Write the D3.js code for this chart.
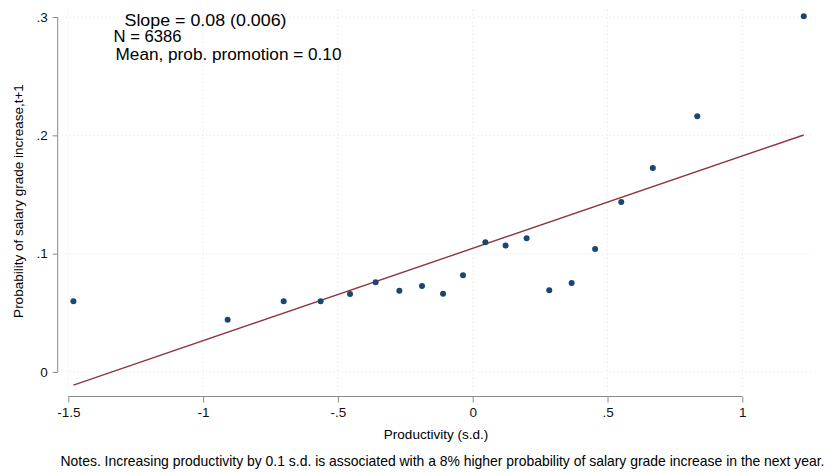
<!DOCTYPE html>
<html>
<head>
<meta charset="utf-8">
<script src="https://cdn.jsdelivr.net/npm/d3@7"></script>
<style>
  html, body { margin: 0; padding: 0; background: #fff; }
  svg { display: block; font-family: "Liberation Sans", Arial, Helvetica, sans-serif; }
</style>
</head>
<body>
<svg id="chart" width="826" height="473"></svg>
<script>
// Binned productivity (s.d.) and probability of a salary grade increase in t+1
const binX = [-1.481, -0.909, -0.701, -0.564, -0.455, -0.360, -0.272, -0.188, -0.110, -0.036,
              0.047, 0.122, 0.200, 0.284, 0.367, 0.454, 0.551, 0.668, 0.833, 1.228];
const binY = [0.0598, 0.0442, 0.0598, 0.0598, 0.0659, 0.0758, 0.0687, 0.0727, 0.0662, 0.0817,
              0.1096, 0.1068, 0.1130, 0.0691, 0.0752, 0.1040, 0.1437, 0.1724, 0.2161, 0.3007];

// Fitted line
const fitSlope = 0.078;
const fitIntercept = 0.1045;

const xTicks = [-1.5, -1, -0.5, 0, 0.5, 1];
const xTickLabels = ["-1.5", "-1", "-.5", "0", ".5", "1"];
const yTicks = [0, 0.1, 0.2, 0.3];
const yTickLabels = ["0", ".1", ".2", ".3"];

const statLines = ["Slope = 0.08 (0.006)", "N = 6386", "Mean, prob. promotion = 0.10"];
const xTitle = "Productivity (s.d.)";
const yTitle = "Probability of salary grade increase,t+1";
const note = "Notes. Increasing productivity by 0.1 s.d. is associated with a 8% higher probability of salary grade increase in the next year.";

const svg = d3.select("#chart");

const x = d3.scaleLinear().domain([-1.5, 1]).range([68.3, 742.3]);
const y = d3.scaleLinear().domain([0, 0.3]).range([372, 17]);

const axisColor = "#8a8a8a";
const gridColor = "#e4e4e4";

// Dotted grid
const grid = svg.append("g");
grid.selectAll("line.gy").data(yTicks).join("line")
  .attr("x1", 62).attr("x2", 812)
  .attr("y1", d => y(d)).attr("y2", d => y(d))
  .attr("stroke", gridColor).attr("stroke-width", 1).attr("stroke-dasharray", "1,3");
grid.selectAll("line.gx").data(xTicks).join("line")
  .attr("y1", 10).attr("y2", 392)
  .attr("x1", d => x(d)).attr("x2", d => x(d))
  .attr("stroke", gridColor).attr("stroke-width", 1).attr("stroke-dasharray", "1,3");

// Y axis
const yAxis = svg.append("g").attr("transform", "translate(57.7,0)")
  .call(d3.axisLeft(y).tickValues(yTicks).tickFormat((d, i) => yTickLabels[i]).tickSize(5).tickPadding(5));
yAxis.select(".domain").attr("stroke", axisColor).attr("d", `M0,${y(0)}V${y(0.3)}`);
yAxis.selectAll(".tick line").attr("stroke", axisColor);
yAxis.selectAll(".tick text").attr("font-size", 13.5).attr("fill", "#111")
  .attr("font-family", "Liberation Sans, Arial, sans-serif");

// X axis
const xAxis = svg.append("g").attr("transform", "translate(0,396.5)")
  .call(d3.axisBottom(x).tickValues(xTicks).tickFormat((d, i) => xTickLabels[i]).tickSize(6).tickPadding(5));
xAxis.select(".domain").attr("stroke", axisColor).attr("d", `M${x(-1.5)},0H${x(1)}`);
xAxis.selectAll(".tick line").attr("stroke", axisColor);
xAxis.selectAll(".tick text").attr("font-size", 13.5).attr("fill", "#111")
  .attr("font-family", "Liberation Sans, Arial, sans-serif");

// Fitted line across the range of the bins
const xMin = d3.min(binX), xMax = d3.max(binX);
svg.append("line")
  .attr("x1", x(xMin)).attr("y1", y(fitIntercept + fitSlope * xMin))
  .attr("x2", x(xMax)).attr("y2", y(fitIntercept + fitSlope * xMax))
  .attr("stroke", "#90353b").attr("stroke-width", 1.4);

// Binned points
svg.append("g").selectAll("circle").data(binX.map((v, i) => [v, binY[i]])).join("circle")
  .attr("cx", d => x(d[0])).attr("cy", d => y(d[1])).attr("r", 3)
  .attr("fill", "#1a476f");

// Statistics text (stacked block, widths fixed per line)
const statPos = [[124.5, 26], [113.5, 42], [115.5, 59.5]];
const statWidth = [162, 68, 226];
svg.append("g").selectAll("text").data(statLines).join("text")
  .attr("x", (d, i) => statPos[i][0]).attr("y", (d, i) => statPos[i][1])
  .attr("font-size", 15.8).attr("fill", "#000")
  .attr("textLength", (d, i) => statWidth[i]).attr("lengthAdjust", "spacingAndGlyphs")
  .text(d => d);

// Axis titles
svg.append("text").attr("x", 436).attr("y", 439).attr("text-anchor", "middle")
  .attr("font-size", 13.5).attr("fill", "#000").text(xTitle);
svg.append("text").attr("transform", "translate(23,201) rotate(-90)").attr("text-anchor", "middle")
  .attr("font-size", 13.5).attr("fill", "#000").text(yTitle);

// Note
svg.append("text").attr("x", 60.5).attr("y", 466).attr("font-size", 13.9).attr("fill", "#000")
  .attr("textLength", 764).attr("lengthAdjust", "spacingAndGlyphs").text(note);
</script>
</body>
</html>
